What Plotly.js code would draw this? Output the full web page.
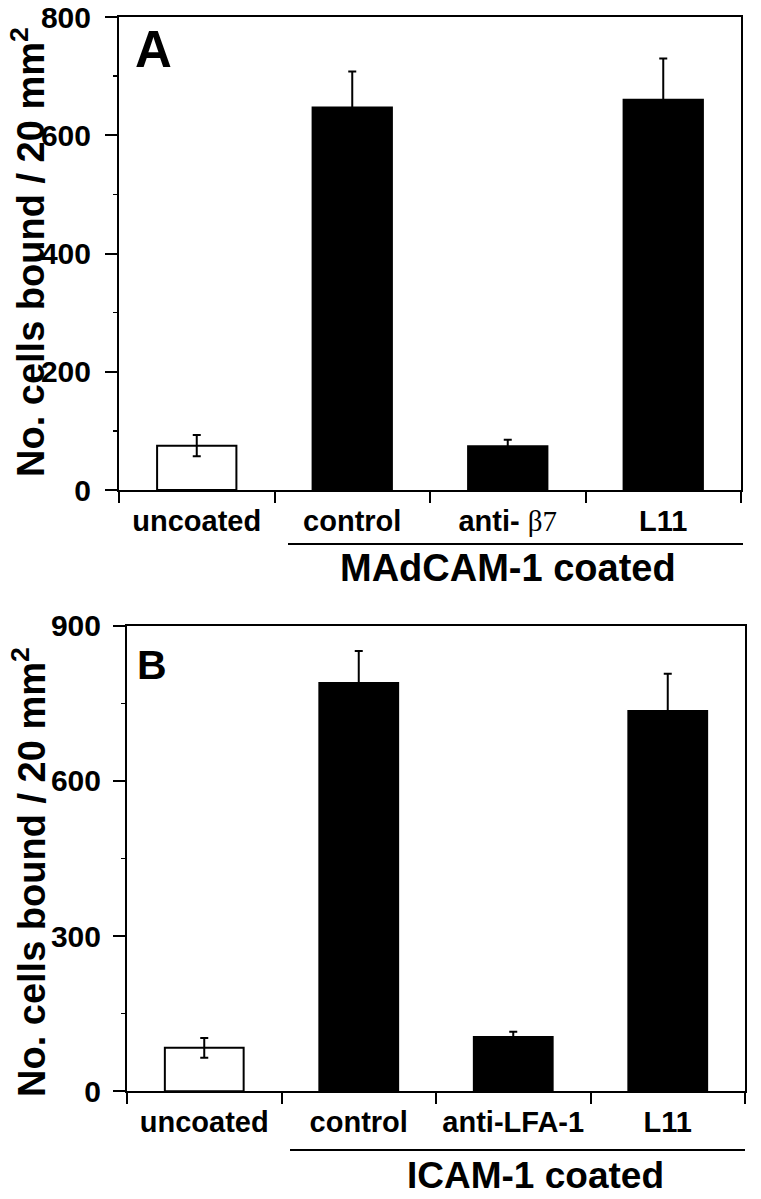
<!DOCTYPE html>
<html>
<head>
<meta charset="utf-8">
<script src="https://cdn.plot.ly/plotly-3.0.1.min.js"></script>
<style>html,body{margin:0;padding:0;background:#fff;}#chart{width:761px;height:1199px;}</style>
</head>
<body>
<div id="chart"></div>
<script>
// ---- data ----
const categoriesA = ["uncoated", "control", "anti- <span style=\"font-family:'Liberation Serif','Times New Roman',serif;font-weight:normal\">β7</span>", "L11"];
const valuesA = [75, 647, 74, 660];
const errorsA = [18, 61, 11, 70];
const categoriesB = ["uncoated", "control", "anti-LFA-1", "L11"];
const valuesB = [84, 789, 105, 735];
const errorsB = [19, 62, 10, 72];
const barColors = ["white", "black", "black", "black"];
const yTitle = "No. cells bound / 20 mm<sup>2</sup>";
const groupA = "MAdCAM-1 coated";
const groupB = "ICAM-1 coated";

// ---- layout helpers (pixel -> paper) ----
const W = 761, H = 1199;
const px = v => v / W;
const py = v => 1 - v / H;
const FAM = "'Liberation Sans', Arial, Helvetica, sans-serif";
const tickFont = {family: FAM, size: 30, weight: "bold", color: "black"};

function barTrace(cats, vals, errs, xa, ya) {
  return {
    type: "bar", x: cats, y: vals, xaxis: xa, yaxis: ya, width: 0.51,
    marker: {color: barColors, line: {color: "black", width: 2}},
    error_y: {type: "data", array: errs, visible: true, color: "black", thickness: 2, width: 4},
    hoverinfo: "skip", showlegend: false
  };
}

const data = [
  barTrace(categoriesA, valuesA, errorsA, "x", "y"),
  barTrace(categoriesB, valuesB, errorsB, "x2", "y2")
];

function xAxis(domain, anchor) {
  return {
    domain: domain, anchor: anchor, type: "category",
    showline: true, linecolor: "black", linewidth: 2, mirror: true,
    ticks: "outside", tickson: "boundaries", ticklen: 11, tickwidth: 2, tickcolor: "black",
    tickfont: {family: FAM, size: 29, weight: "bold", color: "black"}, showgrid: false, zeroline: false, fixedrange: true,
    ticklabelstandoff: 4, automargin: false
  };
}
function yAxis(domain, anchor, max, dtick, standoff) {
  return {
    domain: domain, anchor: anchor, range: [0, max], dtick: dtick, tick0: 0,
    showline: true, linecolor: "black", linewidth: 2, mirror: true,
    ticks: "outside", ticklen: 12, tickwidth: 2, tickcolor: "black",
    minor: {dtick: dtick / 2, ticks: "outside", ticklen: 4, tickwidth: 1.5, tickcolor: "black", showgrid: false},
    tickfont: tickFont, showgrid: false, zeroline: false, fixedrange: true,
    ticklabelstandoff: standoff, automargin: false
  };
}

const layout = {
  width: W, height: H,
  margin: {l: 0, r: 0, t: 0, b: 0},
  paper_bgcolor: "white", plot_bgcolor: "white",
  showlegend: false, bargap: 0.49,
  xaxis: xAxis([px(119), px(741)], "y"),
  yaxis: yAxis([py(490), py(17)], "x", 800, 200, 8),
  xaxis2: xAxis([px(127), px(745)], "y2"),
  yaxis2: yAxis([py(1091.3), py(625.7)], "x2", 900, 300, 6),
  shapes: [
    {type: "line", xref: "paper", yref: "paper", x0: px(288), x1: px(743), y0: py(544), y1: py(544), line: {color: "black", width: 2}},
    {type: "line", xref: "paper", yref: "paper", x0: px(290), x1: px(745), y0: py(1150), y1: py(1150), line: {color: "black", width: 2}}
  ],
  annotations: [
    {text: yTitle, textangle: -90, xref: "paper", yref: "paper", x: px(28), y: py(252), xanchor: "center", yanchor: "middle", showarrow: false,
     font: {family: FAM, size: 38, weight: "bold", color: "black"}},
    {text: yTitle, textangle: -90, xref: "paper", yref: "paper", x: px(29), y: py(872), xanchor: "center", yanchor: "middle", showarrow: false,
     font: {family: FAM, size: 38, weight: "bold", color: "black"}},
    {text: groupA, xref: "paper", yref: "paper", x: px(508), y: py(568), xanchor: "center", yanchor: "middle", showarrow: false,
     font: {family: FAM, size: 38, weight: "bold", color: "black"}},
    {text: groupB, xref: "paper", yref: "paper", x: px(535), y: py(1175), xanchor: "center", yanchor: "middle", showarrow: false,
     font: {family: FAM, size: 37, weight: "bold", color: "black"}},
    {text: "A", xref: "paper", yref: "paper", x: px(133), y: py(50), xanchor: "left", yanchor: "middle", showarrow: false,
     font: {family: FAM, size: 51, weight: "bold", color: "black"}},
    {text: "B", xref: "paper", yref: "paper", x: px(135), y: py(665), xanchor: "left", yanchor: "middle", showarrow: false,
     font: {family: FAM, size: 41, weight: "bold", color: "black"}}
  ]
};

Plotly.newPlot("chart", data, layout, {staticPlot: true, displayModeBar: false});
</script>
</body>
</html>
